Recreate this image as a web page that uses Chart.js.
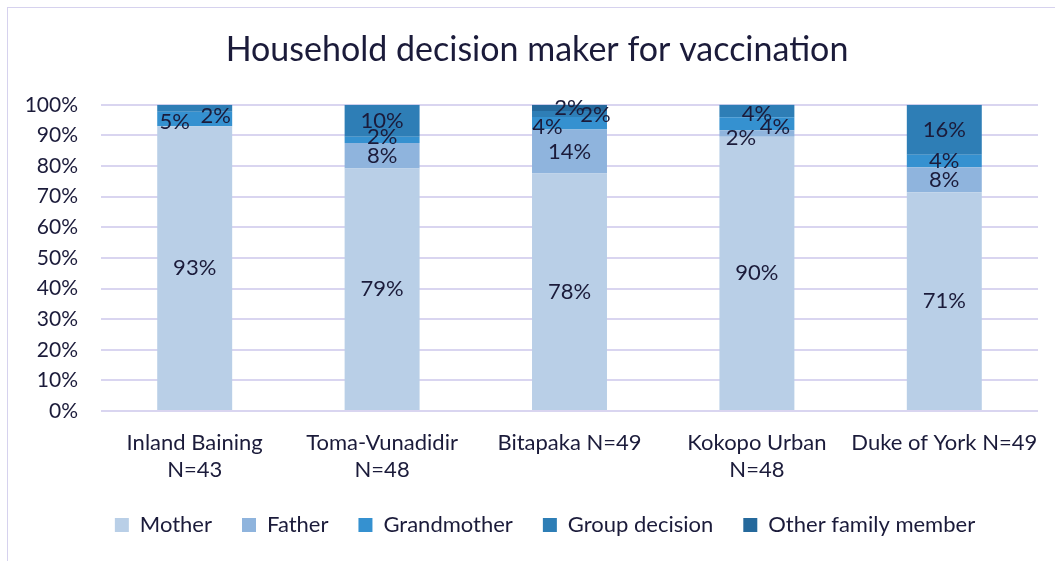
<!DOCTYPE html>
<html>
<head>
<meta charset="utf-8">
<script src="https://cdn.jsdelivr.net/npm/chart.js@4.4.0/dist/chart.umd.min.js"></script>
<style>
  html, body { margin: 0; padding: 0; background: #fff; }
  .wrap { position: relative; width: 1055px; height: 561px; }
  .frame { position: absolute; left: 7px; top: 7px; width: 1060px; height: 570px; border: 1px solid #d6d2ee; box-sizing: border-box; }
  canvas { position: absolute; left: 0; top: 0; }
</style>
</head>
<body>
<div class="wrap">
  <div class="frame"></div>
  <canvas id="chart" width="1055" height="561"></canvas>
</div>
<script>
const categories = [
  ['Inland Baining', 'N=43'],
  ['Toma-Vunadidir', 'N=48'],
  'Bitapaka N=49',
  ['Kokopo Urban', 'N=48'],
  'Duke of York N=49'
];
const mother = [93.0, 79.2, 77.6, 89.6, 71.4];
const father = [0, 8.3, 14.3, 2.1, 8.2];
const grandmother = [4.7, 2.1, 4.1, 4.2, 4.1];
const groupDecision = [2.3, 10.4, 2.0, 4.2, 16.3];
const otherMember = [0, 0, 2.0, 0, 0];
const yTicks = [0, 10, 20, 30, 40, 50, 60, 70, 80, 90, 100];

const textColor = '#1b1b3a';
const fontFamily = 'Lato, "Open Sans", sans-serif';

// nudges for the small, crowded labels (dataset index -> category index -> [dx, dy])
const labelNudge = {
  2: { 0: [-20, 3], 1: [0, -3], 2: [-22, 4], 3: [18, 3] },
  3: { 0: [21, 8], 2: [26, 1], 3: [0, 3] },
  1: { 3: [-16, 4] }
};

const segLabels = {
  id: 'segLabels',
  afterDatasetsDraw(chart) {
    const ctx = chart.ctx;
    ctx.save();
    ctx.font = '22px ' + fontFamily;
    ctx.fillStyle = textColor;
    ctx.textAlign = 'center';
    ctx.textBaseline = 'middle';
    chart.data.datasets.forEach((ds, di) => {
      chart.getDatasetMeta(di).data.forEach((bar, i) => {
        const v = ds.data[i];
        if (!v) return;
        const n = (labelNudge[di] && labelNudge[di][i]) || [0, 0];
        ctx.fillText(Math.round(v) + '%', bar.x + n[0], (bar.y + bar.base) / 2 + n[1]);
      });
    });
    ctx.restore();
  }
};

// title and legend sit a little right of the canvas centre in the original
const shiftBoxes = {
  id: 'shiftBoxes',
  afterLayout(chart) {
    chart.titleBlock.left += 18; chart.titleBlock.right += 18;
    chart.legend.left += 26; chart.legend.right += 26;
  }
};

const makeSet = (label, data, color) => ({
  label, data, backgroundColor: color, borderWidth: 0,
  categoryPercentage: 0.4, barPercentage: 1
});

new Chart(document.getElementById('chart'), {
  type: 'bar',
  data: {
    labels: categories,
    datasets: [
      makeSet('Mother', mother, '#b9cfe7'),
      makeSet('Father', father, '#8fb4dd'),
      makeSet('Grandmother', grandmother, '#3591d0'),
      makeSet('Group decision', groupDecision, '#2e7eb6'),
      makeSet('Other family member', otherMember, '#25699c')
    ]
  },
  options: {
    responsive: false,
    animation: false,
    layout: { padding: { left: 0, right: 17, top: 0, bottom: 15 } },
    plugins: {
      title: {
        display: true,
        text: 'Household decision maker for vaccination',
        color: textColor,
        font: { family: fontFamily, size: 34, weight: 'normal' },
        padding: { top: 30, bottom: 34 }
      },
      legend: {
        position: 'bottom',
        labels: {
          color: textColor,
          font: { family: fontFamily, size: 22 },
          boxWidth: 14,
          boxHeight: 14,
          padding: 30
        }
      },
      tooltip: { enabled: false }
    },
    scales: {
      x: {
        stacked: true,
        grid: { display: false },
        border: { display: false },
        ticks: {
          color: textColor,
          font: { family: fontFamily, size: 22, lineHeight: 1.23 },
          padding: 10,
          maxRotation: 0,
          autoSkip: false
        },
        afterFit(scale) { scale.height = 73; }
      },
      y: {
        stacked: true,
        min: 0,
        max: 100,
        afterBuildTicks(scale) { scale.ticks = yTicks.map(v => ({ value: v })); },
        grid: { color: '#d9d5f0', lineWidth: 2, drawTicks: false },
        border: { display: false },
        ticks: {
          color: textColor,
          font: { family: fontFamily, size: 21 },
          padding: 23,
          callback: v => v + '%'
        },
        afterFit(scale) { scale.width = 101; }
      }
    }
  },
  plugins: [segLabels, shiftBoxes]
});
</script>
</body>
</html>
